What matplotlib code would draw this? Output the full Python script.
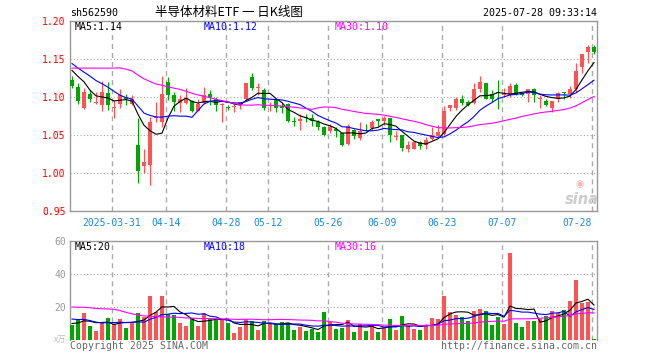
"""
Sina-style daily K-line chart for sh562590 (半导体材料ETF),
candles + MA5/10/30 on top, volume + MA5/10/30 below.
"""

import matplotlib
matplotlib.use("Agg")
import matplotlib.pyplot as plt
import numpy as np
import pandas as pd

# --- data ---------------------------------------------------------------
HOLIDAYS = ["2025-04-04", "2025-05-01", "2025-05-02", "2025-05-05", "2025-06-02"]
dates = pd.bdate_range("2025-03-20", "2025-07-28").drop(pd.to_datetime(HOLIDAYS))

open_ = [1.123, 1.113, 1.085, 1.104, 1.092, 1.090, 1.105, 1.085, 1.091, 1.100,
         1.091, 1.037, 1.009, 1.011, 1.072, 1.067, 1.120, 1.102, 1.092, 1.092,
         1.095, 1.082, 1.092, 1.104, 1.098, 1.090, 1.087, 1.087, 1.089, 1.097,
         1.126, 1.112, 1.109, 1.093, 1.096, 1.088, 1.091, 1.068, 1.068, 1.074,
         1.073, 1.067, 1.060, 1.055, 1.058, 1.053, 1.038, 1.056, 1.046, 1.061,
         1.059, 1.071, 1.069, 1.073, 1.047, 1.050, 1.032, 1.032, 1.041, 1.037,
         1.045, 1.049, 1.051, 1.085, 1.085, 1.097, 1.093, 1.092, 1.111, 1.118,
         1.104, 1.106, 1.103, 1.102, 1.116, 1.105, 1.104, 1.110, 1.098, 1.095,
         1.086, 1.097, 1.106, 1.104, 1.110, 1.140, 1.159, 1.166]
high = [1.128, 1.118, 1.112, 1.109, 1.107, 1.121, 1.120, 1.096, 1.111, 1.104,
        1.102, 1.073, 1.031, 1.074, 1.093, 1.128, 1.126, 1.107, 1.103, 1.112,
        1.096, 1.098, 1.113, 1.109, 1.100, 1.092, 1.090, 1.091, 1.093, 1.119,
        1.132, 1.119, 1.112, 1.094, 1.097, 1.092, 1.092, 1.074, 1.077, 1.078,
        1.077, 1.070, 1.062, 1.064, 1.060, 1.054, 1.064, 1.058, 1.067, 1.064,
        1.070, 1.071, 1.075, 1.073, 1.055, 1.050, 1.042, 1.042, 1.042, 1.048,
        1.060, 1.063, 1.088, 1.090, 1.100, 1.103, 1.096, 1.118, 1.127, 1.119,
        1.109, 1.122, 1.112, 1.119, 1.119, 1.107, 1.110, 1.112, 1.103, 1.098,
        1.095, 1.106, 1.106, 1.115, 1.145, 1.157, 1.168, 1.168]
low = [1.112, 1.091, 1.084, 1.093, 1.091, 1.081, 1.083, 1.072, 1.085, 1.089,
       1.090, 0.987, 1.000, 0.984, 1.067, 1.060, 1.096, 1.081, 1.080, 1.091,
       1.080, 1.081, 1.091, 1.089, 1.081, 1.067, 1.083, 1.080, 1.084, 1.096,
       1.109, 1.103, 1.083, 1.081, 1.080, 1.079, 1.067, 1.062, 1.057, 1.067,
       1.062, 1.056, 1.049, 1.053, 1.048, 1.036, 1.037, 1.045, 1.043, 1.055,
       1.057, 1.062, 1.063, 1.041, 1.044, 1.029, 1.027, 1.031, 1.031, 1.031,
       1.043, 1.047, 1.050, 1.081, 1.083, 1.090, 1.088, 1.091, 1.107, 1.097,
       1.094, 1.084, 1.100, 1.100, 1.102, 1.101, 1.094, 1.094, 1.085, 1.088,
       1.080, 1.094, 1.097, 1.099, 1.107, 1.132, 1.145, 1.157]
close = [1.115, 1.095, 1.107, 1.098, 1.093, 1.107, 1.089, 1.087, 1.103, 1.097,
         1.097, 1.002, 1.015, 1.067, 1.074, 1.104, 1.102, 1.093, 1.097, 1.097,
         1.082, 1.091, 1.102, 1.100, 1.089, 1.091, 1.086, 1.088, 1.093, 1.119,
         1.112, 1.113, 1.086, 1.094, 1.085, 1.085, 1.068, 1.067, 1.071, 1.073,
         1.068, 1.060, 1.050, 1.060, 1.055, 1.037, 1.062, 1.049, 1.055, 1.060,
         1.067, 1.069, 1.073, 1.050, 1.049, 1.033, 1.037, 1.041, 1.036, 1.044,
         1.050, 1.054, 1.081, 1.090, 1.097, 1.092, 1.089, 1.110, 1.120, 1.098,
         1.097, 1.105, 1.104, 1.115, 1.104, 1.103, 1.110, 1.102, 1.099, 1.090,
         1.095, 1.105, 1.105, 1.111, 1.134, 1.157, 1.166, 1.159]
# volume, x 10k shares
volume = [9.3, 12.7, 16.4, 8.5, 5.5, 10.1, 13.5, 9.5, 12.7, 7.3,
          10.5, 16.4, 13.7, 26.7, 17.0, 26.7, 16.0, 15.2, 10.3, 8.7,
          13.1, 8.7, 16.2, 12.5, 12.3, 12.3, 10.3, 4.2, 8.1, 12.7,
          11.5, 6.3, 11.7, 9.7, 9.5, 10.9, 10.3, 6.3, 7.7, 5.7,
          6.9, 5.1, 17.0, 10.7, 6.9, 7.3, 12.1, 4.8, 9.5, 5.5,
          9.7, 4.8, 7.3, 12.7, 6.1, 14.5, 8.5, 6.7, 6.1, 9.1,
          13.3, 12.7, 26.7, 17.0, 15.2, 13.9, 11.5, 17.6, 18.8, 17.6,
          9.1, 13.9, 9.7, 52.7, 10.3, 7.9, 11.5, 11.5, 12.7, 14.5,
          17.6, 16.4, 18.2, 23.6, 36.4, 22.4, 23.0, 0.6]

# sessions before the first candle (not drawn), estimated from where the MA lines start
warmup_close = [1.096, 1.106, 1.098, 1.094, 1.106, 1.090, 1.084, 1.095, 1.150, 1.165,
                1.170, 1.160, 1.175, 1.168, 1.155, 1.160, 1.150, 1.145, 1.170, 1.163,
                1.155, 1.160, 1.150, 1.152, 1.148, 1.135, 1.142, 1.153, 1.130]
warmup_volume = [17, 18, 16, 17, 18, 16, 16, 35, 40, 38,
                 36, 32, 30, 28, 30, 18, 17, 16, 18, 17,
                 16, 15, 16, 15, 15, 11, 10, 9.7, 10]

tick_dates = ["2025-03-31", "2025-04-14", "2025-04-28", "2025-05-12", "2025-05-26",
              "2025-06-09", "2025-06-23", "2025-07-07", "2025-07-28"]
tick_labels = ["2025-03-31", "04-14", "04-28", "05-12", "05-26",
               "06-09", "06-23", "07-07", "07-28"]
price_ticks = [0.95, 1.00, 1.05, 1.10, 1.15, 1.20]
volume_ticks = [20, 40, 60]

MA_WINDOWS = [5, 10, 30]
MA_COLORS = ["black", "#0000ff", "#ff00ff"]
price_ma_text = ["MA5:1.14", "MA10:1.12", "MA30:1.10"]
volume_ma_text = ["MA5:20", "MA10:18", "MA30:16"]

RED = "#ff5353"
GREEN = "#00a600"
GRID = "#aaaaaa"
FRAME = "#999999"
MONO = "DejaVu Sans Mono"

W, H = 660, 360


def moving_averages(values, warmup):
    s = pd.Series(list(warmup) + list(values), dtype=float)
    n = len(values)
    return [s.rolling(w).mean().to_numpy()[-n:] for w in MA_WINDOWS]


def box(left, top, right, bottom):
    return [left / W, 1 - bottom / H, (right - left) / W, (bottom - top) / H]


def ftext(fig, x, y, s, **kw):
    fig.text(x / W, 1 - y / H, s, **kw)


# --- draw -------------------------------------------------------------------
fig = plt.figure(figsize=(W / 100, H / 100), dpi=100)
ax = fig.add_axes(box(70, 21, 597, 211))
axv = fig.add_axes(box(70, 241, 597, 340))

o, h, l, c = (np.array(a) for a in (open_, high, low, close))
v = np.array(volume)
x = np.arange(len(c))
colors = np.where(c >= o, RED, GREEN)

# candles
ax.vlines(x, l, h, colors=colors, lw=0.8, zorder=3)
ax.bar(x, np.maximum(np.abs(c - o), 0.0009), bottom=np.minimum(o, c),
       width=0.8, color=colors, lw=0, zorder=3)
for ma, col in zip(moving_averages(c, warmup_close), MA_COLORS):
    ax.plot(x, ma, color=col, lw=0.8, zorder=4)

# volume
axv.bar(x, v, width=0.8, color=colors, lw=0, zorder=3)
for ma, col in zip(moving_averages(v, warmup_volume), MA_COLORS):
    axv.plot(x, ma, color=col, lw=0.8, zorder=4)

tick_pos = [dates.get_loc(pd.Timestamp(d)) - 1 / 3 for d in tick_dates]
for a in (ax, axv):
    a.set_xlim(-1 / 3, len(c) - 0.5)
    a.set_xticks(tick_pos)
    a.set_axisbelow(True)
    a.xaxis.grid(True, ls=(0, (3.6, 2.9)), color=GRID, lw=1)
    a.yaxis.grid(True, ls=(0, (1, 2)), color=GRID, lw=0.8)
    a.tick_params(length=0)
    for sp in a.spines.values():
        sp.set_color(FRAME)
        sp.set_linewidth(1)

ax.set_ylim(0.95, 1.20)
ax.set_yticks(price_ticks)
ax.set_yticklabels([f"{p:.2f}" for p in price_ticks], color="#ff0000",
                   family=MONO, fontsize=7)
ax.set_xticklabels(tick_labels, color="#1a8ad4", family=MONO, fontsize=7)
ax.tick_params(axis="y", pad=3)
ax.tick_params(axis="x", pad=5)
ax.get_xticklabels()[-1].set_ha("right")

axv.set_ylim(0, 60)
axv.set_yticks(volume_ticks)
axv.set_yticklabels([str(t) for t in volume_ticks], color=FRAME,
                    family=MONO, fontsize=7)
axv.tick_params(axis="y", pad=3)
axv.set_xticklabels([])
axv.spines["bottom"].set_visible(False)

# texts
ftext(fig, 70, 13, "sh562590", family=MONO, fontsize=7.2, va="center")
ftext(fig, 229, 12.5, "半导体材料ETF 一 日K线图", family=["Noto Sans CJK SC"],
      fontsize=9, ha="center", va="center")
ftext(fig, 597, 13, "2025-07-28 09:33:14", family=MONO, fontsize=7.2,
      ha="right", va="center")
for xp, s, col in zip([75, 204, 335], price_ma_text, MA_COLORS):
    ftext(fig, xp, 26.5, s, family=MONO, fontsize=7.1, color=col, va="center")
for xp, s, col in zip([75, 204, 335], volume_ma_text, MA_COLORS):
    ftext(fig, xp, 246.5, s, family=MONO, fontsize=7.1, color=col, va="center")
ftext(fig, 66, 339, "x万", family=["Noto Sans CJK SC"], fontsize=6,
      color="#bbbbbb", ha="right", va="center")
ftext(fig, 70, 346, "Copyright 2025 SINA.COM", family=MONO, fontsize=7.1,
      color="#666666", va="center")
ftext(fig, 597, 346, "http://finance.sina.com.cn", family=MONO, fontsize=7.1,
      color="#666666", ha="right", va="center")
# sina watermark
ftext(fig, 580, 184, "◉", family="DejaVu Sans", fontsize=7,
      color="#f2b8b8", ha="center", va="center")
ftext(fig, 582, 199.5, "sina", fontsize=10.5, fontweight="bold", style="italic",
      color="#cccccc", ha="center", va="center")

fig.savefig("out.png", dpi=100)
